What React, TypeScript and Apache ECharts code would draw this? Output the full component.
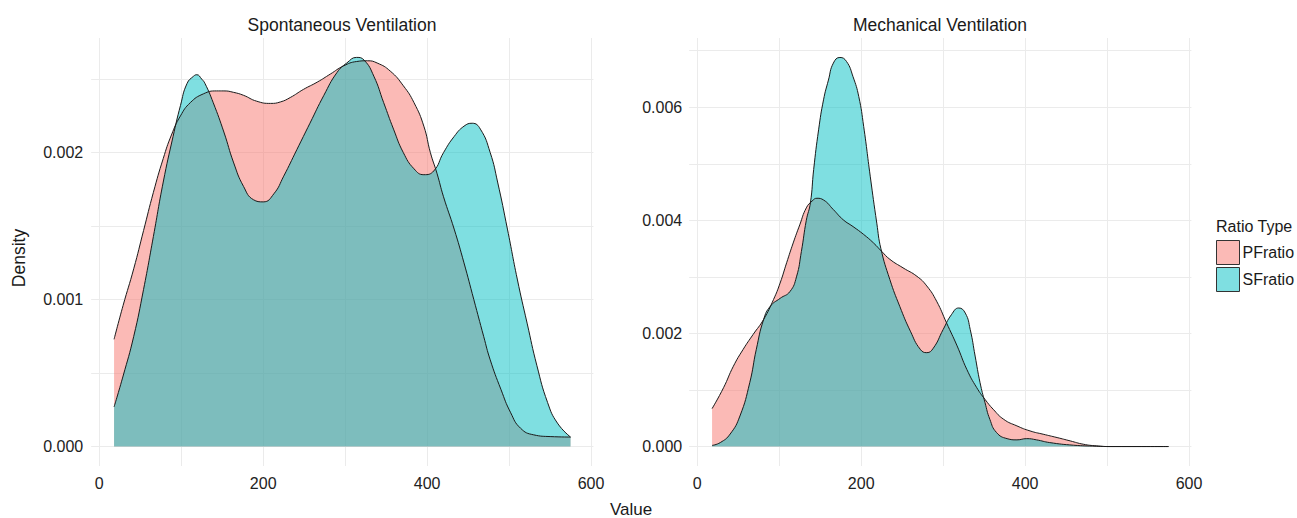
import React, { useEffect, useRef } from "react";
import * as echarts from "echarts";

// Spontaneous Ventilation
const spontPFx = [18, 29, 42, 54, 66, 78, 88, 99, 111, 127, 143, 152, 164, 176, 192, 209, 221, 233, 249, 266, 282, 298, 314, 327, 339, 355, 371, 384, 396, 404, 412, 420, 433, 445, 457, 469, 477, 490, 502, 514, 530, 551, 575];
const spontPFy = [0.00073, 0.00096, 0.00121, 0.00147, 0.00173, 0.00196, 0.00212, 0.00225, 0.00234, 0.0024, 0.00242, 0.00242, 0.00241, 0.00239, 0.00235, 0.002335, 0.002345, 0.002375, 0.00243, 0.00248, 0.002535, 0.00259, 0.00262, 0.002625, 0.00261, 0.002555, 0.002455, 0.00234, 0.00218, 0.002, 0.00186, 0.0017, 0.00148, 0.00125, 0.001, 0.00075, 0.00059, 0.00039, 0.00023, 0.000125, 0.00008, 0.000068, 0.000065];
const spontSFx = [18, 29, 42, 54, 66, 78, 90, 99, 107, 115, 119, 125, 129, 139, 152, 164, 176, 188, 200, 213, 225, 241, 257, 274, 290, 302, 314, 323, 335, 347, 359, 371, 384, 396, 408, 420, 433, 445, 455, 465, 477, 486, 498, 510, 522, 534, 547, 559, 575];
const spontSFy = [0.00027, 0.00048, 0.00075, 0.00107, 0.00143, 0.0018, 0.00211, 0.00232, 0.00247, 0.00252, 0.00253, 0.0025, 0.00247, 0.00234, 0.00214, 0.00193, 0.00177, 0.00168, 0.001665, 0.00172, 0.00184, 0.00202, 0.0022, 0.00239, 0.002545, 0.00261, 0.002648, 0.00263, 0.00252, 0.00234, 0.00216, 0.002, 0.00189, 0.00185, 0.001875, 0.002, 0.00211, 0.00218, 0.0022, 0.00216, 0.002, 0.0018, 0.00148, 0.00114, 0.00084, 0.00055, 0.0003, 0.00016, 0.000065];

// Mechanical Ventilation
const mechPFx = [18, 32, 44, 56, 68, 81, 93, 101, 109, 117, 125, 133, 140, 146, 154, 166, 178, 190, 203, 215, 225, 235, 251, 268, 280, 292, 304, 317, 329, 341, 351, 361, 374, 390, 406, 422, 439, 455, 471, 487, 504, 575];
const mechPFy = [0.00067, 0.00104, 0.00142, 0.00172, 0.00198, 0.00225, 0.0026, 0.00289, 0.00325, 0.0036, 0.00392, 0.00422, 0.00434, 0.00439, 0.00436, 0.00419, 0.00401, 0.00389, 0.00375, 0.0036, 0.00345, 0.00331, 0.00316, 0.00301, 0.00284, 0.00257, 0.00219, 0.00178, 0.00136, 0.00104, 0.000835, 0.00066, 0.00048, 0.000365, 0.000276, 0.000218, 0.000159, 0.0001, 0.000041, 0.000012, 0, 0];
const mechSFx = [18, 28, 40, 52, 64, 72, 81, 89, 101, 113, 121, 127, 133, 138, 142, 148, 154, 160, 166, 174, 182, 190, 197, 203, 211, 219, 224, 235, 247, 260, 272, 280, 288, 300, 310, 319, 327, 333, 339, 345, 351, 357, 365, 378, 390, 402, 414, 430, 459, 487, 505, 575];
const mechSFy = [0.00002, 0.00007, 0.00022, 0.00054, 0.00113, 0.00172, 0.00225, 0.00248, 0.00262, 0.00274, 0.003, 0.00345, 0.004, 0.00431, 0.0049, 0.0056, 0.00613, 0.00648, 0.00678, 0.00688, 0.00681, 0.00654, 0.00619, 0.00566, 0.00478, 0.00395, 0.0035, 0.00295, 0.00248, 0.00204, 0.00172, 0.00166, 0.00174, 0.00207, 0.00233, 0.00245, 0.00236, 0.00207, 0.0016, 0.00113, 0.00078, 0.00048, 0.00025, 0.00014, 0.000118, 0.00014, 0.000118, 0.00007, 0.000024, 0.000006, 0, 0];

const panelTitles = ["Spontaneous Ventilation", "Mechanical Ventilation"];
const seriesNames = ["PFratio", "SFratio"];
const xTicks = [0, 200, 400, 600];
const xGrid = [0, 100, 200, 300, 400, 500, 600];
const spontYTicks = [0, 0.001, 0.002];
const spontYGrid = [0, 0.0005, 0.001, 0.0015, 0.002, 0.0025];
const mechYTicks = [0, 0.002, 0.004, 0.006];
const mechYGrid = [0, 0.001, 0.002, 0.003, 0.004, 0.005, 0.006, 0.007];

const FONT = "'Liberation Sans', Arial, sans-serif";
const PINK = "#F8766D";
const CYAN = "#00BFC4";

function pairs(xs: number[], ys: number[]) {
  return xs.map((x, i) => [x, ys[i]]);
}

export default function App() {
  const ref = useRef<HTMLDivElement>(null);
  useEffect(() => {
    if (!ref.current) return;
    const chart = echarts.init(ref.current, null, { renderer: "svg" });
    const gridW = 502.2;
    const grids = [
      { left: 91.2, top: 38, width: gridW, height: 428 },
      { left: 689.2, top: 38, width: gridW, height: 428 },
    ];
    const X_MIN = -9.9;
    const X_MAX = 602.9;
    const yRanges = [
      [-0.000132, 0.00278],
      [-0.000344, 0.007224],
    ];
    const xFmt = (v: number) => (xTicks.some((t) => Math.abs(t - v) < 1e-6) ? String(v) : "");
    const yFmt = (ticks: number[]) => (v: number) =>
      ticks.some((t) => Math.abs(t - v) < 1e-9) ? v.toFixed(3) : "";
    const labelStyle = { fontSize: 16, color: "#222", fontFamily: FONT };
    const xAxes = [0, 1].map((g) => ({
      type: "value",
      gridIndex: g,
      min: X_MIN,
      max: X_MAX,
      axisLine: { show: false },
      axisTick: { show: false },
      splitLine: { show: false },
      axisLabel: { ...labelStyle, margin: 9, customValues: xTicks, formatter: xFmt },
    }));
    const yAxes = [
      {
        type: "value",
        gridIndex: 0,
        min: yRanges[0][0],
        max: yRanges[0][1],
        axisLine: { show: false },
        axisTick: { show: false },
        splitLine: { show: false },
        axisLabel: { ...labelStyle, margin: 8, customValues: spontYTicks, formatter: yFmt(spontYTicks) },
      },
      {
        type: "value",
        gridIndex: 1,
        min: yRanges[1][0],
        max: yRanges[1][1],
        axisLine: { show: false },
        axisTick: { show: false },
        splitLine: { show: false },
        axisLabel: { ...labelStyle, margin: 7, customValues: mechYTicks, formatter: yFmt(mechYTicks) },
      },
    ];
    const gridSeries = (g: number, yGrid: number[]) => ({
      type: "line",
      xAxisIndex: g,
      yAxisIndex: g,
      data: [[0, 0]],
      symbol: "none",
      lineStyle: { width: 0, opacity: 0 },
      silent: true,
      z: 1,
      markLine: {
        silent: true,
        z: 1,
        symbol: ["none", "none"],
        label: { show: false },
        lineStyle: { type: "solid", color: "#ebebeb", width: 1 },
        emphasis: { disabled: true },
        data: [
          ...xGrid.map((v) => [{ coord: [v, yRanges[g][0]] }, { coord: [v, yRanges[g][1]] }]),
          ...yGrid.map((v) => [{ coord: [X_MIN, v] }, { coord: [X_MAX, v] }]),
        ],
      },
    });
    const dens = (g: number, name: string, color: string, data: number[][]) => ({
      type: "line",
      name,
      xAxisIndex: g,
      yAxisIndex: g,
      data,
      showSymbol: false,
      symbol: "none",
      smooth: 0.5,
      z: 3,
      itemStyle: { color },
      lineStyle: { color: "#1a1a1a", width: 1 },
      areaStyle: { color, opacity: 0.5 },
      silent: true,
    });
    const textStyle = (t: string, x: number, y: number, size: number, extra: any = {}) => ({
      type: "text",
      x,
      y,
      silent: true,
      ...extra,
      style: {
        text: t,
        fontSize: size,
        fontFamily: FONT,
        fill: "#1a1a1a",
        textAlign: "center",
        textVerticalAlign: "middle",
      },
    });
    chart.setOption({
      animation: false,
      grid: grids,
      xAxis: xAxes,
      yAxis: yAxes,
      legend: {
        orient: "vertical",
        left: 1216,
        top: 240,
        padding: 0,
        itemWidth: 23,
        itemHeight: 24,
        itemGap: 2,
        icon: "rect",
        selectedMode: false,
        textStyle: { fontSize: 16, color: "#1a1a1a", fontFamily: FONT, padding: [0, 0, 0, -2] },
        data: [
          { name: seriesNames[0], itemStyle: { color: "rgba(248,118,109,0.5)", borderColor: "#333", borderWidth: 1 } },
          { name: seriesNames[1], itemStyle: { color: "rgba(0,191,196,0.5)", borderColor: "#333", borderWidth: 1 } },
        ],
      },
      graphic: [
        textStyle(panelTitles[0], 342, 25, 17.5),
        textStyle(panelTitles[1], 940, 25, 17.5),
        textStyle("Value", 631, 509.5, 17),
        textStyle("Density", 19, 258, 17.5, { rotation: Math.PI / 2 }),
        {
          type: "text",
          x: 1216,
          y: 226,
          silent: true,
          style: { text: "Ratio Type", fontSize: 16, fontFamily: FONT, fill: "#1a1a1a", textAlign: "left", textVerticalAlign: "middle" },
        },
      ],
      series: [
        gridSeries(0, spontYGrid),
        gridSeries(1, mechYGrid),
        dens(0, seriesNames[0], PINK, pairs(spontPFx, spontPFy)),
        dens(0, seriesNames[1], CYAN, pairs(spontSFx, spontSFy)),
        dens(1, seriesNames[0], PINK, pairs(mechPFx, mechPFy)),
        dens(1, seriesNames[1], CYAN, pairs(mechSFx, mechSFy)),
      ],
    });
    return () => chart.dispose();
  }, []);
  return (
    <div
      ref={ref}
      style={{ position: "absolute", left: 0, top: 0, width: 1297, height: 518, background: "#fff" }}
    />
  );
}
